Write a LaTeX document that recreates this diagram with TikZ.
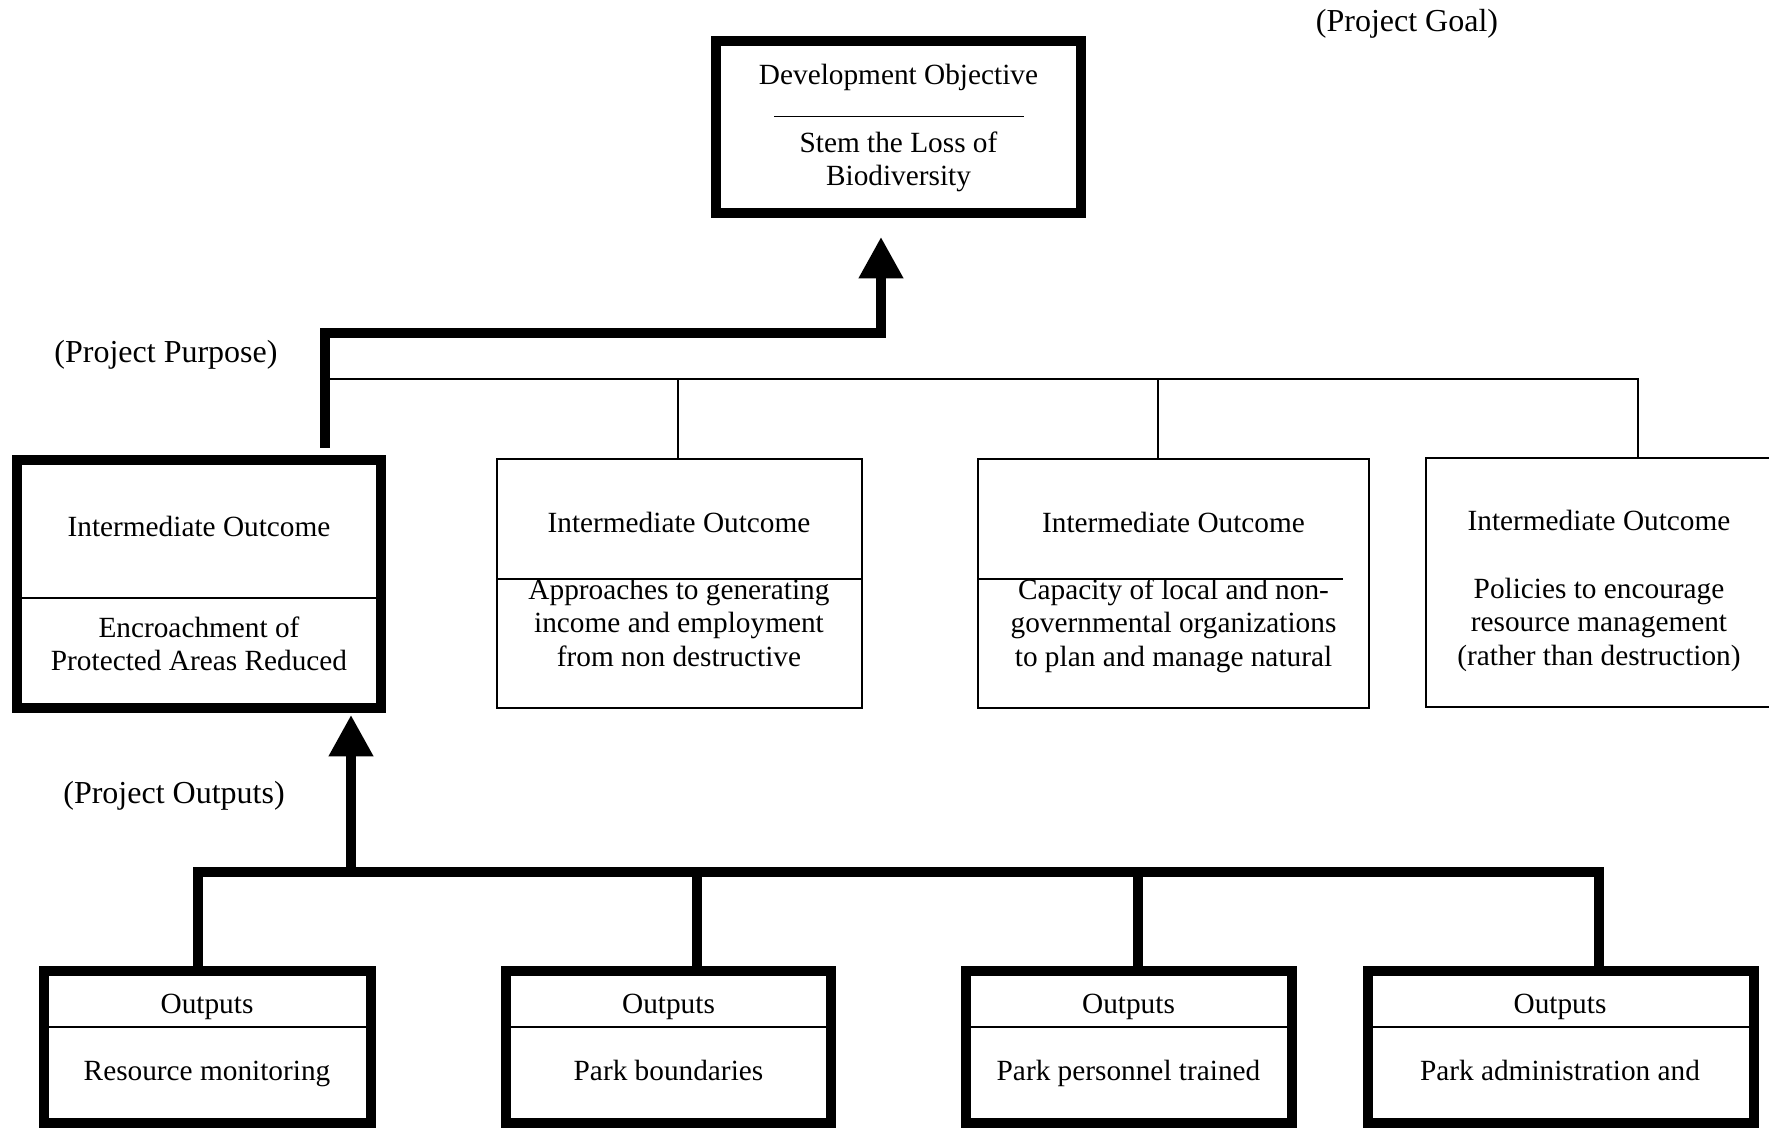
\documentclass[tikz,border=0pt]{standalone}
\usepackage{fontspec}
\setmainfont{Liberation Serif}
\usetikzlibrary{arrows.meta,calc}
\newcommand\mlines[1]{\begin{tabular}[t]{@{}c@{}}#1\end{tabular}}
\begin{document}
\begin{tikzpicture}[x=0.5pt,y=-0.5pt,
  every node/.style={inner sep=0pt, outer sep=0pt},
  thickbox/.style={draw, line width=5pt, line join=miter},
  thinbox/.style={draw, line width=0.75pt},
  thickline/.style={line width=4.75pt, line join=miter},
  thinline/.style={line width=0.75pt},
  bigarrow/.style={-{Triangle[length=20.75pt,width=21.25pt]}},
  txt/.style={anchor=base, align=center, font=\fontsize{14.65pt}{16.75pt}\selectfont},
  tag/.style={anchor=base, font=\fontsize{16pt}{19pt}\selectfont},
]
\fill[white] (0,0) rectangle (1769,1128);
\useasboundingbox (0,0) rectangle (1769,1128);
\clip (0,0) rectangle (1769,1128);

% boxes
\node[thickbox, minimum width=182.5pt, minimum height=86pt] (dev) at (898.5,127) {};
\node[thickbox, minimum width=182.25pt, minimum height=124pt] (io1) at (198.75,584) {};
\node[thinbox, minimum width=182.5pt, minimum height=124.5pt] (io2) at (679.5,583.5) {};
\node[thinbox, minimum width=195.5pt, minimum height=124.5pt] (io3) at (1173.5,583.5) {};
\node[thinbox, minimum width=173.5pt, minimum height=124.5pt] (io4) at (1599.5,582.5) {};
\node[thickbox, minimum width=163.5pt, minimum height=76pt] (ob1) at (207.5,1047) {};
\node[thickbox, minimum width=162.75pt, minimum height=76pt] (ob2) at (668.25,1047) {};
\node[thickbox, minimum width=163pt, minimum height=76pt] (ob3) at (1129,1047) {};
\node[thickbox, minimum width=193pt, minimum height=76pt] (ob4) at (1561,1047) {};

% dividers
\draw[thinline] ($(dev.center)+(-124.5,-10.5)$) -- ++(250,0);
\draw[thinline] ([yshift=-7pt]io1.west) -- ([yshift=-7pt]io1.east);
\draw[thinline] ([yshift=2.25pt]io2.west) -- ([yshift=2.25pt]io2.east);
\draw[thinline] ([yshift=2.25pt]io3.west) -- ++(365,0);
\foreach \i in {1,2,3,4}{
  \draw[thinline] ([yshift=10pt]ob\i.west) -- ([yshift=10pt]ob\i.east);
}

% texts
\node[txt] (devT) at (898.5,84.5) {Development Objective};
\node[txt] (devB) at (898.5,152.5) {\mlines{Stem the Loss of\\Biodiversity}};
\node[txt] (io1T) at (199,536.5) {Intermediate Outcome};
\node[txt] (io1B) at (199,637.5) {\mlines{Encroachment of\\Protected Areas Reduced}};
\node[txt] (io2T) at (679,532.5) {Intermediate Outcome};
\node[txt] (io2B) at (679,599.5) {\mlines{Approaches to generating\\income and employment\\from non destructive}};
\node[txt] (io3T) at (1173.5,532.5) {Intermediate Outcome};
\node[txt] (io3B) at (1173.5,599.5) {\mlines{Capacity of local and non-\\governmental organizations\\to plan and manage natural}};
\node[txt] (io4T) at (1599,530.5) {Intermediate Outcome};
\node[txt] (io4B) at (1599,598.5) {\mlines{Policies to encourage\\resource management\\(rather than destruction)}};
\node[txt] (ob1T) at (207,1013.5) {Outputs};
\node[txt] (ob1B) at (207,1080.5) {Resource monitoring};
\node[txt] (ob2T) at (668.5,1013.5) {Outputs};
\node[txt] (ob2B) at (668.5,1080.5) {Park boundaries};
\node[txt] (ob3T) at (1128.5,1013.5) {Outputs};
\node[txt] (ob3B) at (1128.5,1080.5) {Park personnel trained};
\node[txt] (ob4T) at (1560,1013.5) {Outputs};
\node[txt] (ob4B) at (1560,1080.5) {Park administration and};

\node[tag] (goal) at (1407,31.5) {(Project Goal)};
\node[tag] (purpose) at (166,363) {(Project Purpose)};
\node[tag] (outputs) at (174,804) {(Project Outputs)};

% purpose -> goal
\coordinate (pp) at ($(io1.north)+(126.25,-12)$);
\coordinate (tipA) at ($(dev.south)+(-17.5,24)$);
\draw[thickline,bigarrow] (pp) |- ($(tipA)+(0,96)$) -- (tipA);

% thin bus to other outcomes
\coordinate (busL) at ($(pp)+(4.5,-69)$);
\coordinate (c2) at ([xshift=-0.75pt]io2.north);
\coordinate (c3) at ([xshift=-7.75pt]io3.north);
\coordinate (c4) at ([xshift=19.25pt]io4.north);
\draw[thinline] (busL) -| (c4);
\draw[thinline] (c2 |- busL) -- (c2);
\draw[thinline] (c3 |- busL) -- (c3);

% outputs -> purpose
\coordinate (o1) at ([xshift=-4.75pt]ob1.north);
\coordinate (o2) at ([xshift=14.375pt]ob2.north);
\coordinate (o3) at ([xshift=4.5pt]ob3.north);
\coordinate (o4) at ([xshift=19pt]ob4.north);
\coordinate (bar) at ($(o1)+(0,-99)$);
\draw[thickline] (o1) -- (bar) -| (o4);
\draw[thickline] (o2 |- bar) -- (o2);
\draw[thickline] (o3 |- bar) -- (o3);
\coordinate (tipB) at ($(io1.south)+(152.25,7)$);
\draw[thickline,bigarrow] (tipB |- bar) -- (tipB);
\end{tikzpicture}
\end{document}
